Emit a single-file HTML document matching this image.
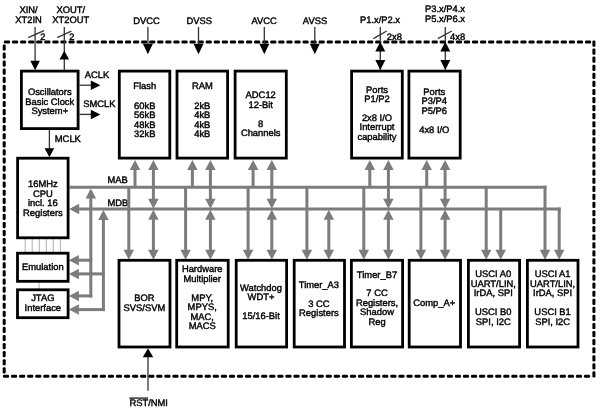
<!DOCTYPE html>
<html><head><meta charset="utf-8"><style>
html,body{margin:0;padding:0;background:#fff;}
body{width:600px;height:412px;overflow:hidden;}
svg{display:block;}
text{font-family:"Liberation Sans",sans-serif;fill:#000;stroke:#000;stroke-width:0.4px;text-rendering:geometricPrecision;}
svg{will-change:transform;filter:blur(0.35px);}
</style></head><body>
<svg width="600" height="412" viewBox="0 0 600 412">
<rect width="600" height="412" fill="#fff"/>
<rect x="3.90" y="40.50" width="6.2" height="3.0" rx="1.2" fill="#000"/>
<rect x="11.97" y="40.50" width="6.2" height="3.0" rx="1.2" fill="#000"/>
<rect x="20.04" y="40.50" width="6.2" height="3.0" rx="1.2" fill="#000"/>
<rect x="28.11" y="40.50" width="6.2" height="3.0" rx="1.2" fill="#000"/>
<rect x="36.18" y="40.50" width="6.2" height="3.0" rx="1.2" fill="#000"/>
<rect x="44.25" y="40.50" width="6.2" height="3.0" rx="1.2" fill="#000"/>
<rect x="52.32" y="40.50" width="6.2" height="3.0" rx="1.2" fill="#000"/>
<rect x="60.39" y="40.50" width="6.2" height="3.0" rx="1.2" fill="#000"/>
<rect x="68.46" y="40.50" width="6.2" height="3.0" rx="1.2" fill="#000"/>
<rect x="76.53" y="40.50" width="6.2" height="3.0" rx="1.2" fill="#000"/>
<rect x="84.60" y="40.50" width="6.2" height="3.0" rx="1.2" fill="#000"/>
<rect x="92.67" y="40.50" width="6.2" height="3.0" rx="1.2" fill="#000"/>
<rect x="100.74" y="40.50" width="6.2" height="3.0" rx="1.2" fill="#000"/>
<rect x="108.81" y="40.50" width="6.2" height="3.0" rx="1.2" fill="#000"/>
<rect x="116.88" y="40.50" width="6.2" height="3.0" rx="1.2" fill="#000"/>
<rect x="124.95" y="40.50" width="6.2" height="3.0" rx="1.2" fill="#000"/>
<rect x="133.02" y="40.50" width="6.2" height="3.0" rx="1.2" fill="#000"/>
<rect x="141.09" y="40.50" width="6.2" height="3.0" rx="1.2" fill="#000"/>
<rect x="149.16" y="40.50" width="6.2" height="3.0" rx="1.2" fill="#000"/>
<rect x="157.23" y="40.50" width="6.2" height="3.0" rx="1.2" fill="#000"/>
<rect x="165.30" y="40.50" width="6.2" height="3.0" rx="1.2" fill="#000"/>
<rect x="173.37" y="40.50" width="6.2" height="3.0" rx="1.2" fill="#000"/>
<rect x="181.44" y="40.50" width="6.2" height="3.0" rx="1.2" fill="#000"/>
<rect x="189.51" y="40.50" width="6.2" height="3.0" rx="1.2" fill="#000"/>
<rect x="197.58" y="40.50" width="6.2" height="3.0" rx="1.2" fill="#000"/>
<rect x="205.65" y="40.50" width="6.2" height="3.0" rx="1.2" fill="#000"/>
<rect x="213.72" y="40.50" width="6.2" height="3.0" rx="1.2" fill="#000"/>
<rect x="221.79" y="40.50" width="6.2" height="3.0" rx="1.2" fill="#000"/>
<rect x="229.86" y="40.50" width="6.2" height="3.0" rx="1.2" fill="#000"/>
<rect x="237.93" y="40.50" width="6.2" height="3.0" rx="1.2" fill="#000"/>
<rect x="246.00" y="40.50" width="6.2" height="3.0" rx="1.2" fill="#000"/>
<rect x="254.07" y="40.50" width="6.2" height="3.0" rx="1.2" fill="#000"/>
<rect x="262.14" y="40.50" width="6.2" height="3.0" rx="1.2" fill="#000"/>
<rect x="270.21" y="40.50" width="6.2" height="3.0" rx="1.2" fill="#000"/>
<rect x="278.28" y="40.50" width="6.2" height="3.0" rx="1.2" fill="#000"/>
<rect x="286.35" y="40.50" width="6.2" height="3.0" rx="1.2" fill="#000"/>
<rect x="294.42" y="40.50" width="6.2" height="3.0" rx="1.2" fill="#000"/>
<rect x="302.49" y="40.50" width="6.2" height="3.0" rx="1.2" fill="#000"/>
<rect x="310.56" y="40.50" width="6.2" height="3.0" rx="1.2" fill="#000"/>
<rect x="318.63" y="40.50" width="6.2" height="3.0" rx="1.2" fill="#000"/>
<rect x="326.70" y="40.50" width="6.2" height="3.0" rx="1.2" fill="#000"/>
<rect x="334.77" y="40.50" width="6.2" height="3.0" rx="1.2" fill="#000"/>
<rect x="342.84" y="40.50" width="6.2" height="3.0" rx="1.2" fill="#000"/>
<rect x="350.91" y="40.50" width="6.2" height="3.0" rx="1.2" fill="#000"/>
<rect x="358.98" y="40.50" width="6.2" height="3.0" rx="1.2" fill="#000"/>
<rect x="367.05" y="40.50" width="6.2" height="3.0" rx="1.2" fill="#000"/>
<rect x="375.12" y="40.50" width="6.2" height="3.0" rx="1.2" fill="#000"/>
<rect x="383.19" y="40.50" width="6.2" height="3.0" rx="1.2" fill="#000"/>
<rect x="391.26" y="40.50" width="6.2" height="3.0" rx="1.2" fill="#000"/>
<rect x="399.33" y="40.50" width="6.2" height="3.0" rx="1.2" fill="#000"/>
<rect x="407.40" y="40.50" width="6.2" height="3.0" rx="1.2" fill="#000"/>
<rect x="415.47" y="40.50" width="6.2" height="3.0" rx="1.2" fill="#000"/>
<rect x="423.54" y="40.50" width="6.2" height="3.0" rx="1.2" fill="#000"/>
<rect x="431.61" y="40.50" width="6.2" height="3.0" rx="1.2" fill="#000"/>
<rect x="439.68" y="40.50" width="6.2" height="3.0" rx="1.2" fill="#000"/>
<rect x="447.75" y="40.50" width="6.2" height="3.0" rx="1.2" fill="#000"/>
<rect x="455.82" y="40.50" width="6.2" height="3.0" rx="1.2" fill="#000"/>
<rect x="463.89" y="40.50" width="6.2" height="3.0" rx="1.2" fill="#000"/>
<rect x="471.96" y="40.50" width="6.2" height="3.0" rx="1.2" fill="#000"/>
<rect x="480.03" y="40.50" width="6.2" height="3.0" rx="1.2" fill="#000"/>
<rect x="488.10" y="40.50" width="6.2" height="3.0" rx="1.2" fill="#000"/>
<rect x="496.17" y="40.50" width="6.2" height="3.0" rx="1.2" fill="#000"/>
<rect x="504.24" y="40.50" width="6.2" height="3.0" rx="1.2" fill="#000"/>
<rect x="512.31" y="40.50" width="6.2" height="3.0" rx="1.2" fill="#000"/>
<rect x="520.38" y="40.50" width="6.2" height="3.0" rx="1.2" fill="#000"/>
<rect x="528.45" y="40.50" width="6.2" height="3.0" rx="1.2" fill="#000"/>
<rect x="536.52" y="40.50" width="6.2" height="3.0" rx="1.2" fill="#000"/>
<rect x="544.59" y="40.50" width="6.2" height="3.0" rx="1.2" fill="#000"/>
<rect x="552.66" y="40.50" width="6.2" height="3.0" rx="1.2" fill="#000"/>
<rect x="560.73" y="40.50" width="6.2" height="3.0" rx="1.2" fill="#000"/>
<rect x="568.80" y="40.50" width="6.2" height="3.0" rx="1.2" fill="#000"/>
<rect x="576.87" y="40.50" width="6.2" height="3.0" rx="1.2" fill="#000"/>
<rect x="584.94" y="40.50" width="6.2" height="3.0" rx="1.2" fill="#000"/>
<rect x="2.90" y="374.80" width="6.2" height="3.0" rx="1.2" fill="#000"/>
<rect x="10.97" y="374.80" width="6.2" height="3.0" rx="1.2" fill="#000"/>
<rect x="19.04" y="374.80" width="6.2" height="3.0" rx="1.2" fill="#000"/>
<rect x="27.11" y="374.80" width="6.2" height="3.0" rx="1.2" fill="#000"/>
<rect x="35.18" y="374.80" width="6.2" height="3.0" rx="1.2" fill="#000"/>
<rect x="43.25" y="374.80" width="6.2" height="3.0" rx="1.2" fill="#000"/>
<rect x="51.32" y="374.80" width="6.2" height="3.0" rx="1.2" fill="#000"/>
<rect x="59.39" y="374.80" width="6.2" height="3.0" rx="1.2" fill="#000"/>
<rect x="67.46" y="374.80" width="6.2" height="3.0" rx="1.2" fill="#000"/>
<rect x="75.53" y="374.80" width="6.2" height="3.0" rx="1.2" fill="#000"/>
<rect x="83.60" y="374.80" width="6.2" height="3.0" rx="1.2" fill="#000"/>
<rect x="91.67" y="374.80" width="6.2" height="3.0" rx="1.2" fill="#000"/>
<rect x="99.74" y="374.80" width="6.2" height="3.0" rx="1.2" fill="#000"/>
<rect x="107.81" y="374.80" width="6.2" height="3.0" rx="1.2" fill="#000"/>
<rect x="115.88" y="374.80" width="6.2" height="3.0" rx="1.2" fill="#000"/>
<rect x="123.95" y="374.80" width="6.2" height="3.0" rx="1.2" fill="#000"/>
<rect x="132.02" y="374.80" width="6.2" height="3.0" rx="1.2" fill="#000"/>
<rect x="140.09" y="374.80" width="6.2" height="3.0" rx="1.2" fill="#000"/>
<rect x="148.16" y="374.80" width="6.2" height="3.0" rx="1.2" fill="#000"/>
<rect x="156.23" y="374.80" width="6.2" height="3.0" rx="1.2" fill="#000"/>
<rect x="164.30" y="374.80" width="6.2" height="3.0" rx="1.2" fill="#000"/>
<rect x="172.37" y="374.80" width="6.2" height="3.0" rx="1.2" fill="#000"/>
<rect x="180.44" y="374.80" width="6.2" height="3.0" rx="1.2" fill="#000"/>
<rect x="188.51" y="374.80" width="6.2" height="3.0" rx="1.2" fill="#000"/>
<rect x="196.58" y="374.80" width="6.2" height="3.0" rx="1.2" fill="#000"/>
<rect x="204.65" y="374.80" width="6.2" height="3.0" rx="1.2" fill="#000"/>
<rect x="212.72" y="374.80" width="6.2" height="3.0" rx="1.2" fill="#000"/>
<rect x="220.79" y="374.80" width="6.2" height="3.0" rx="1.2" fill="#000"/>
<rect x="228.86" y="374.80" width="6.2" height="3.0" rx="1.2" fill="#000"/>
<rect x="236.93" y="374.80" width="6.2" height="3.0" rx="1.2" fill="#000"/>
<rect x="245.00" y="374.80" width="6.2" height="3.0" rx="1.2" fill="#000"/>
<rect x="253.07" y="374.80" width="6.2" height="3.0" rx="1.2" fill="#000"/>
<rect x="261.14" y="374.80" width="6.2" height="3.0" rx="1.2" fill="#000"/>
<rect x="269.21" y="374.80" width="6.2" height="3.0" rx="1.2" fill="#000"/>
<rect x="277.28" y="374.80" width="6.2" height="3.0" rx="1.2" fill="#000"/>
<rect x="285.35" y="374.80" width="6.2" height="3.0" rx="1.2" fill="#000"/>
<rect x="293.42" y="374.80" width="6.2" height="3.0" rx="1.2" fill="#000"/>
<rect x="301.49" y="374.80" width="6.2" height="3.0" rx="1.2" fill="#000"/>
<rect x="309.56" y="374.80" width="6.2" height="3.0" rx="1.2" fill="#000"/>
<rect x="317.63" y="374.80" width="6.2" height="3.0" rx="1.2" fill="#000"/>
<rect x="325.70" y="374.80" width="6.2" height="3.0" rx="1.2" fill="#000"/>
<rect x="333.77" y="374.80" width="6.2" height="3.0" rx="1.2" fill="#000"/>
<rect x="341.84" y="374.80" width="6.2" height="3.0" rx="1.2" fill="#000"/>
<rect x="349.91" y="374.80" width="6.2" height="3.0" rx="1.2" fill="#000"/>
<rect x="357.98" y="374.80" width="6.2" height="3.0" rx="1.2" fill="#000"/>
<rect x="366.05" y="374.80" width="6.2" height="3.0" rx="1.2" fill="#000"/>
<rect x="374.12" y="374.80" width="6.2" height="3.0" rx="1.2" fill="#000"/>
<rect x="382.19" y="374.80" width="6.2" height="3.0" rx="1.2" fill="#000"/>
<rect x="390.26" y="374.80" width="6.2" height="3.0" rx="1.2" fill="#000"/>
<rect x="398.33" y="374.80" width="6.2" height="3.0" rx="1.2" fill="#000"/>
<rect x="406.40" y="374.80" width="6.2" height="3.0" rx="1.2" fill="#000"/>
<rect x="414.47" y="374.80" width="6.2" height="3.0" rx="1.2" fill="#000"/>
<rect x="422.54" y="374.80" width="6.2" height="3.0" rx="1.2" fill="#000"/>
<rect x="430.61" y="374.80" width="6.2" height="3.0" rx="1.2" fill="#000"/>
<rect x="438.68" y="374.80" width="6.2" height="3.0" rx="1.2" fill="#000"/>
<rect x="446.75" y="374.80" width="6.2" height="3.0" rx="1.2" fill="#000"/>
<rect x="454.82" y="374.80" width="6.2" height="3.0" rx="1.2" fill="#000"/>
<rect x="462.89" y="374.80" width="6.2" height="3.0" rx="1.2" fill="#000"/>
<rect x="470.96" y="374.80" width="6.2" height="3.0" rx="1.2" fill="#000"/>
<rect x="479.03" y="374.80" width="6.2" height="3.0" rx="1.2" fill="#000"/>
<rect x="487.10" y="374.80" width="6.2" height="3.0" rx="1.2" fill="#000"/>
<rect x="495.17" y="374.80" width="6.2" height="3.0" rx="1.2" fill="#000"/>
<rect x="503.24" y="374.80" width="6.2" height="3.0" rx="1.2" fill="#000"/>
<rect x="511.31" y="374.80" width="6.2" height="3.0" rx="1.2" fill="#000"/>
<rect x="519.38" y="374.80" width="6.2" height="3.0" rx="1.2" fill="#000"/>
<rect x="527.45" y="374.80" width="6.2" height="3.0" rx="1.2" fill="#000"/>
<rect x="535.52" y="374.80" width="6.2" height="3.0" rx="1.2" fill="#000"/>
<rect x="543.59" y="374.80" width="6.2" height="3.0" rx="1.2" fill="#000"/>
<rect x="551.66" y="374.80" width="6.2" height="3.0" rx="1.2" fill="#000"/>
<rect x="559.73" y="374.80" width="6.2" height="3.0" rx="1.2" fill="#000"/>
<rect x="567.80" y="374.80" width="6.2" height="3.0" rx="1.2" fill="#000"/>
<rect x="575.87" y="374.80" width="6.2" height="3.0" rx="1.2" fill="#000"/>
<rect x="583.94" y="374.80" width="6.2" height="3.0" rx="1.2" fill="#000"/>
<rect x="2.70" y="44.40" width="3.0" height="6.2" rx="1.2" fill="#000"/>
<rect x="2.70" y="52.47" width="3.0" height="6.2" rx="1.2" fill="#000"/>
<rect x="2.70" y="60.54" width="3.0" height="6.2" rx="1.2" fill="#000"/>
<rect x="2.70" y="68.61" width="3.0" height="6.2" rx="1.2" fill="#000"/>
<rect x="2.70" y="76.68" width="3.0" height="6.2" rx="1.2" fill="#000"/>
<rect x="2.70" y="84.75" width="3.0" height="6.2" rx="1.2" fill="#000"/>
<rect x="2.70" y="92.82" width="3.0" height="6.2" rx="1.2" fill="#000"/>
<rect x="2.70" y="100.89" width="3.0" height="6.2" rx="1.2" fill="#000"/>
<rect x="2.70" y="108.96" width="3.0" height="6.2" rx="1.2" fill="#000"/>
<rect x="2.70" y="117.03" width="3.0" height="6.2" rx="1.2" fill="#000"/>
<rect x="2.70" y="125.10" width="3.0" height="6.2" rx="1.2" fill="#000"/>
<rect x="2.70" y="133.17" width="3.0" height="6.2" rx="1.2" fill="#000"/>
<rect x="2.70" y="141.24" width="3.0" height="6.2" rx="1.2" fill="#000"/>
<rect x="2.70" y="149.31" width="3.0" height="6.2" rx="1.2" fill="#000"/>
<rect x="2.70" y="157.38" width="3.0" height="6.2" rx="1.2" fill="#000"/>
<rect x="2.70" y="165.45" width="3.0" height="6.2" rx="1.2" fill="#000"/>
<rect x="2.70" y="173.52" width="3.0" height="6.2" rx="1.2" fill="#000"/>
<rect x="2.70" y="181.59" width="3.0" height="6.2" rx="1.2" fill="#000"/>
<rect x="2.70" y="189.66" width="3.0" height="6.2" rx="1.2" fill="#000"/>
<rect x="2.70" y="197.73" width="3.0" height="6.2" rx="1.2" fill="#000"/>
<rect x="2.70" y="205.80" width="3.0" height="6.2" rx="1.2" fill="#000"/>
<rect x="2.70" y="213.87" width="3.0" height="6.2" rx="1.2" fill="#000"/>
<rect x="2.70" y="221.94" width="3.0" height="6.2" rx="1.2" fill="#000"/>
<rect x="2.70" y="230.01" width="3.0" height="6.2" rx="1.2" fill="#000"/>
<rect x="2.70" y="238.08" width="3.0" height="6.2" rx="1.2" fill="#000"/>
<rect x="2.70" y="246.15" width="3.0" height="6.2" rx="1.2" fill="#000"/>
<rect x="2.70" y="254.22" width="3.0" height="6.2" rx="1.2" fill="#000"/>
<rect x="2.70" y="262.29" width="3.0" height="6.2" rx="1.2" fill="#000"/>
<rect x="2.70" y="270.36" width="3.0" height="6.2" rx="1.2" fill="#000"/>
<rect x="2.70" y="278.43" width="3.0" height="6.2" rx="1.2" fill="#000"/>
<rect x="2.70" y="286.50" width="3.0" height="6.2" rx="1.2" fill="#000"/>
<rect x="2.70" y="294.57" width="3.0" height="6.2" rx="1.2" fill="#000"/>
<rect x="2.70" y="302.64" width="3.0" height="6.2" rx="1.2" fill="#000"/>
<rect x="2.70" y="310.71" width="3.0" height="6.2" rx="1.2" fill="#000"/>
<rect x="2.70" y="318.78" width="3.0" height="6.2" rx="1.2" fill="#000"/>
<rect x="2.70" y="326.85" width="3.0" height="6.2" rx="1.2" fill="#000"/>
<rect x="2.70" y="334.92" width="3.0" height="6.2" rx="1.2" fill="#000"/>
<rect x="2.70" y="342.99" width="3.0" height="6.2" rx="1.2" fill="#000"/>
<rect x="2.70" y="351.06" width="3.0" height="6.2" rx="1.2" fill="#000"/>
<rect x="2.70" y="359.13" width="3.0" height="6.2" rx="1.2" fill="#000"/>
<rect x="2.70" y="367.20" width="3.0" height="6.2" rx="1.2" fill="#000"/>
<rect x="592.40" y="40.47" width="3.0" height="6.2" rx="1.2" fill="#000"/>
<rect x="592.40" y="48.54" width="3.0" height="6.2" rx="1.2" fill="#000"/>
<rect x="592.40" y="56.61" width="3.0" height="6.2" rx="1.2" fill="#000"/>
<rect x="592.40" y="64.68" width="3.0" height="6.2" rx="1.2" fill="#000"/>
<rect x="592.40" y="72.75" width="3.0" height="6.2" rx="1.2" fill="#000"/>
<rect x="592.40" y="80.82" width="3.0" height="6.2" rx="1.2" fill="#000"/>
<rect x="592.40" y="88.89" width="3.0" height="6.2" rx="1.2" fill="#000"/>
<rect x="592.40" y="96.96" width="3.0" height="6.2" rx="1.2" fill="#000"/>
<rect x="592.40" y="105.03" width="3.0" height="6.2" rx="1.2" fill="#000"/>
<rect x="592.40" y="113.10" width="3.0" height="6.2" rx="1.2" fill="#000"/>
<rect x="592.40" y="121.17" width="3.0" height="6.2" rx="1.2" fill="#000"/>
<rect x="592.40" y="129.24" width="3.0" height="6.2" rx="1.2" fill="#000"/>
<rect x="592.40" y="137.31" width="3.0" height="6.2" rx="1.2" fill="#000"/>
<rect x="592.40" y="145.38" width="3.0" height="6.2" rx="1.2" fill="#000"/>
<rect x="592.40" y="153.45" width="3.0" height="6.2" rx="1.2" fill="#000"/>
<rect x="592.40" y="161.52" width="3.0" height="6.2" rx="1.2" fill="#000"/>
<rect x="592.40" y="169.59" width="3.0" height="6.2" rx="1.2" fill="#000"/>
<rect x="592.40" y="177.66" width="3.0" height="6.2" rx="1.2" fill="#000"/>
<rect x="592.40" y="185.73" width="3.0" height="6.2" rx="1.2" fill="#000"/>
<rect x="592.40" y="193.80" width="3.0" height="6.2" rx="1.2" fill="#000"/>
<rect x="592.40" y="201.87" width="3.0" height="6.2" rx="1.2" fill="#000"/>
<rect x="592.40" y="209.94" width="3.0" height="6.2" rx="1.2" fill="#000"/>
<rect x="592.40" y="218.01" width="3.0" height="6.2" rx="1.2" fill="#000"/>
<rect x="592.40" y="226.08" width="3.0" height="6.2" rx="1.2" fill="#000"/>
<rect x="592.40" y="234.15" width="3.0" height="6.2" rx="1.2" fill="#000"/>
<rect x="592.40" y="242.22" width="3.0" height="6.2" rx="1.2" fill="#000"/>
<rect x="592.40" y="250.29" width="3.0" height="6.2" rx="1.2" fill="#000"/>
<rect x="592.40" y="258.36" width="3.0" height="6.2" rx="1.2" fill="#000"/>
<rect x="592.40" y="266.43" width="3.0" height="6.2" rx="1.2" fill="#000"/>
<rect x="592.40" y="274.50" width="3.0" height="6.2" rx="1.2" fill="#000"/>
<rect x="592.40" y="282.57" width="3.0" height="6.2" rx="1.2" fill="#000"/>
<rect x="592.40" y="290.64" width="3.0" height="6.2" rx="1.2" fill="#000"/>
<rect x="592.40" y="298.71" width="3.0" height="6.2" rx="1.2" fill="#000"/>
<rect x="592.40" y="306.78" width="3.0" height="6.2" rx="1.2" fill="#000"/>
<rect x="592.40" y="314.85" width="3.0" height="6.2" rx="1.2" fill="#000"/>
<rect x="592.40" y="322.92" width="3.0" height="6.2" rx="1.2" fill="#000"/>
<rect x="592.40" y="330.99" width="3.0" height="6.2" rx="1.2" fill="#000"/>
<rect x="592.40" y="339.06" width="3.0" height="6.2" rx="1.2" fill="#000"/>
<rect x="592.40" y="347.13" width="3.0" height="6.2" rx="1.2" fill="#000"/>
<rect x="592.40" y="355.20" width="3.0" height="6.2" rx="1.2" fill="#000"/>
<rect x="592.40" y="363.27" width="3.0" height="6.2" rx="1.2" fill="#000"/>
<rect x="592.40" y="371.34" width="3.0" height="6.2" rx="1.2" fill="#000"/>
<text transform="translate(107.50,182.50) scale(1,1.0)" text-anchor="start" font-size="9.4" >MAB</text>
<text transform="translate(107.50,206.00) scale(1,1.0)" text-anchor="start" font-size="9.4" >MDB</text>
<line x1="69.50" y1="187.20" x2="546.50" y2="187.20" stroke="#7c7c7e" stroke-width="3.0"/>
<line x1="72.00" y1="209.10" x2="560.70" y2="209.10" stroke="#7c7c7e" stroke-width="3.0"/>
<polygon points="69.20,209.10 79.20,203.85 79.20,214.35" fill="#7c7c7e"/>
<line x1="135.00" y1="187.20" x2="135.00" y2="163.50" stroke="#7c7c7e" stroke-width="3.0"/>
<polygon points="135.00,159.90 129.75,169.90 140.25,169.90" fill="#7c7c7e"/>
<line x1="153.40" y1="163.50" x2="153.40" y2="205.10" stroke="#7c7c7e" stroke-width="3.0"/>
<polygon points="153.40,159.90 148.15,169.90 158.65,169.90" fill="#7c7c7e"/>
<polygon points="153.40,208.70 148.15,198.70 158.65,198.70" fill="#7c7c7e"/>
<line x1="192.40" y1="187.20" x2="192.40" y2="163.50" stroke="#7c7c7e" stroke-width="3.0"/>
<polygon points="192.40,159.90 187.15,169.90 197.65,169.90" fill="#7c7c7e"/>
<line x1="210.40" y1="163.50" x2="210.40" y2="205.10" stroke="#7c7c7e" stroke-width="3.0"/>
<polygon points="210.40,159.90 205.15,169.90 215.65,169.90" fill="#7c7c7e"/>
<polygon points="210.40,208.70 205.15,198.70 215.65,198.70" fill="#7c7c7e"/>
<line x1="253.10" y1="187.20" x2="253.10" y2="163.50" stroke="#7c7c7e" stroke-width="3.0"/>
<polygon points="253.10,159.90 247.85,169.90 258.35,169.90" fill="#7c7c7e"/>
<line x1="271.80" y1="163.50" x2="271.80" y2="205.10" stroke="#7c7c7e" stroke-width="3.0"/>
<polygon points="271.80,159.90 266.55,169.90 277.05,169.90" fill="#7c7c7e"/>
<polygon points="271.80,208.70 266.55,198.70 277.05,198.70" fill="#7c7c7e"/>
<line x1="369.80" y1="187.20" x2="369.80" y2="163.50" stroke="#7c7c7e" stroke-width="3.0"/>
<polygon points="369.80,159.90 364.55,169.90 375.05,169.90" fill="#7c7c7e"/>
<line x1="388.40" y1="163.50" x2="388.40" y2="205.10" stroke="#7c7c7e" stroke-width="3.0"/>
<polygon points="388.40,159.90 383.15,169.90 393.65,169.90" fill="#7c7c7e"/>
<polygon points="388.40,208.70 383.15,198.70 393.65,198.70" fill="#7c7c7e"/>
<line x1="426.70" y1="187.20" x2="426.70" y2="163.50" stroke="#7c7c7e" stroke-width="3.0"/>
<polygon points="426.70,159.90 421.45,169.90 431.95,169.90" fill="#7c7c7e"/>
<line x1="445.10" y1="163.50" x2="445.10" y2="205.10" stroke="#7c7c7e" stroke-width="3.0"/>
<polygon points="445.10,159.90 439.85,169.90 450.35,169.90" fill="#7c7c7e"/>
<polygon points="445.10,208.70 439.85,198.70 450.35,198.70" fill="#7c7c7e"/>
<line x1="128.80" y1="187.20" x2="128.80" y2="254.90" stroke="#7c7c7e" stroke-width="3.0"/>
<polygon points="128.80,259.70 123.55,249.70 134.05,249.70" fill="#7c7c7e"/>
<line x1="153.40" y1="213.10" x2="153.40" y2="254.90" stroke="#7c7c7e" stroke-width="3.0"/>
<polygon points="153.40,209.70 148.15,219.70 158.65,219.70" fill="#7c7c7e"/>
<polygon points="153.40,259.70 148.15,249.70 158.65,249.70" fill="#7c7c7e"/>
<line x1="185.60" y1="187.20" x2="185.60" y2="254.90" stroke="#7c7c7e" stroke-width="3.0"/>
<polygon points="185.60,259.70 180.35,249.70 190.85,249.70" fill="#7c7c7e"/>
<line x1="210.40" y1="213.10" x2="210.40" y2="254.90" stroke="#7c7c7e" stroke-width="3.0"/>
<polygon points="210.40,209.70 205.15,219.70 215.65,219.70" fill="#7c7c7e"/>
<polygon points="210.40,259.70 205.15,249.70 215.65,249.70" fill="#7c7c7e"/>
<line x1="248.10" y1="187.20" x2="248.10" y2="254.90" stroke="#7c7c7e" stroke-width="3.0"/>
<polygon points="248.10,259.70 242.85,249.70 253.35,249.70" fill="#7c7c7e"/>
<line x1="271.80" y1="213.10" x2="271.80" y2="254.90" stroke="#7c7c7e" stroke-width="3.0"/>
<polygon points="271.80,209.70 266.55,219.70 277.05,219.70" fill="#7c7c7e"/>
<polygon points="271.80,259.70 266.55,249.70 277.05,249.70" fill="#7c7c7e"/>
<line x1="306.90" y1="187.20" x2="306.90" y2="254.90" stroke="#7c7c7e" stroke-width="3.0"/>
<polygon points="306.90,259.70 301.65,249.70 312.15,249.70" fill="#7c7c7e"/>
<line x1="328.80" y1="213.10" x2="328.80" y2="254.90" stroke="#7c7c7e" stroke-width="3.0"/>
<polygon points="328.80,209.70 323.55,219.70 334.05,219.70" fill="#7c7c7e"/>
<polygon points="328.80,259.70 323.55,249.70 334.05,249.70" fill="#7c7c7e"/>
<line x1="363.80" y1="187.20" x2="363.80" y2="254.90" stroke="#7c7c7e" stroke-width="3.0"/>
<polygon points="363.80,259.70 358.55,249.70 369.05,249.70" fill="#7c7c7e"/>
<line x1="388.40" y1="213.10" x2="388.40" y2="254.90" stroke="#7c7c7e" stroke-width="3.0"/>
<polygon points="388.40,209.70 383.15,219.70 393.65,219.70" fill="#7c7c7e"/>
<polygon points="388.40,259.70 383.15,249.70 393.65,249.70" fill="#7c7c7e"/>
<line x1="420.90" y1="187.20" x2="420.90" y2="254.90" stroke="#7c7c7e" stroke-width="3.0"/>
<polygon points="420.90,259.70 415.65,249.70 426.15,249.70" fill="#7c7c7e"/>
<line x1="445.10" y1="213.10" x2="445.10" y2="254.90" stroke="#7c7c7e" stroke-width="3.0"/>
<polygon points="445.10,209.70 439.85,219.70 450.35,219.70" fill="#7c7c7e"/>
<polygon points="445.10,259.70 439.85,249.70 450.35,249.70" fill="#7c7c7e"/>
<line x1="486.20" y1="187.20" x2="486.20" y2="254.90" stroke="#7c7c7e" stroke-width="3.0"/>
<polygon points="486.20,259.70 480.95,249.70 491.45,249.70" fill="#7c7c7e"/>
<line x1="500.70" y1="209.10" x2="500.70" y2="254.90" stroke="#7c7c7e" stroke-width="3.0"/>
<polygon points="500.70,259.70 495.45,249.70 505.95,249.70" fill="#7c7c7e"/>
<line x1="545.00" y1="185.70" x2="545.00" y2="254.90" stroke="#7c7c7e" stroke-width="3.0"/>
<polygon points="545.00,259.70 539.75,249.70 550.25,249.70" fill="#7c7c7e"/>
<line x1="559.20" y1="207.60" x2="559.20" y2="254.90" stroke="#7c7c7e" stroke-width="3.0"/>
<polygon points="559.20,259.70 553.95,249.70 564.45,249.70" fill="#7c7c7e"/>
<line x1="90.80" y1="191.20" x2="90.80" y2="297.40" stroke="#7c7c7e" stroke-width="3.0"/>
<polygon points="90.80,188.40 85.55,198.40 96.05,198.40" fill="#7c7c7e"/>
<line x1="103.40" y1="213.10" x2="103.40" y2="311.10" stroke="#7c7c7e" stroke-width="3.0"/>
<polygon points="103.40,209.90 98.15,219.90 108.65,219.90" fill="#7c7c7e"/>
<line x1="74.00" y1="260.20" x2="92.30" y2="260.20" stroke="#7c7c7e" stroke-width="3.0"/>
<polygon points="68.90,260.20 78.90,254.95 78.90,265.45" fill="#7c7c7e"/>
<line x1="74.00" y1="273.90" x2="104.90" y2="273.90" stroke="#7c7c7e" stroke-width="3.0"/>
<polygon points="68.90,273.90 78.90,268.65 78.90,279.15" fill="#7c7c7e"/>
<line x1="74.00" y1="295.90" x2="92.30" y2="295.90" stroke="#7c7c7e" stroke-width="3.0"/>
<polygon points="68.90,295.90 78.90,290.65 78.90,301.15" fill="#7c7c7e"/>
<line x1="74.00" y1="309.60" x2="104.90" y2="309.60" stroke="#7c7c7e" stroke-width="3.0"/>
<polygon points="68.90,309.60 78.90,304.35 78.90,314.85" fill="#7c7c7e"/>
<line x1="25.20" y1="239.00" x2="25.20" y2="252.00" stroke="#9a9a9a" stroke-width="0.8"/>
<line x1="32.20" y1="239.00" x2="32.20" y2="252.00" stroke="#9a9a9a" stroke-width="0.8"/>
<line x1="39.30" y1="239.00" x2="39.30" y2="252.00" stroke="#9a9a9a" stroke-width="0.8"/>
<line x1="46.30" y1="239.00" x2="46.30" y2="252.00" stroke="#9a9a9a" stroke-width="0.8"/>
<line x1="53.30" y1="239.00" x2="53.30" y2="252.00" stroke="#9a9a9a" stroke-width="0.8"/>
<line x1="60.40" y1="239.00" x2="60.40" y2="252.00" stroke="#9a9a9a" stroke-width="0.8"/>
<line x1="39.10" y1="282.00" x2="39.10" y2="289.00" stroke="#9a9a9a" stroke-width="0.8"/>
<rect x="21.40" y="71.10" width="56.70" height="57.50" fill="none" stroke="#000" stroke-width="2.8"/>
<rect x="17.60" y="158.20" width="50.50" height="79.60" fill="none" stroke="#000" stroke-width="2.8"/>
<rect x="17.50" y="253.20" width="50.60" height="28.10" fill="none" stroke="#000" stroke-width="2.8"/>
<rect x="17.50" y="289.80" width="50.60" height="27.90" fill="none" stroke="#000" stroke-width="2.8"/>
<rect x="119.30" y="71.10" width="50.50" height="87.00" fill="none" stroke="#000" stroke-width="2.8"/>
<rect x="177.00" y="71.10" width="50.60" height="87.00" fill="none" stroke="#000" stroke-width="2.8"/>
<rect x="235.10" y="71.10" width="51.20" height="87.00" fill="none" stroke="#000" stroke-width="2.8"/>
<rect x="351.60" y="71.10" width="50.70" height="87.00" fill="none" stroke="#000" stroke-width="2.8"/>
<rect x="408.90" y="71.10" width="51.30" height="87.00" fill="none" stroke="#000" stroke-width="2.8"/>
<rect x="119.00" y="260.30" width="51.00" height="86.70" fill="none" stroke="#000" stroke-width="2.8"/>
<rect x="176.70" y="260.30" width="51.50" height="86.70" fill="none" stroke="#000" stroke-width="2.8"/>
<rect x="236.20" y="260.30" width="50.40" height="86.70" fill="none" stroke="#000" stroke-width="2.8"/>
<rect x="294.20" y="260.30" width="50.30" height="86.70" fill="none" stroke="#000" stroke-width="2.8"/>
<rect x="351.40" y="260.30" width="51.20" height="86.70" fill="none" stroke="#000" stroke-width="2.8"/>
<rect x="409.20" y="260.30" width="51.30" height="86.70" fill="none" stroke="#000" stroke-width="2.8"/>
<rect x="468.40" y="260.30" width="51.20" height="86.70" fill="none" stroke="#000" stroke-width="2.8"/>
<rect x="527.40" y="260.30" width="50.60" height="86.70" fill="none" stroke="#000" stroke-width="2.8"/>
<line x1="35.10" y1="27.00" x2="35.10" y2="62.00" stroke="#333" stroke-width="1.3"/>
<polygon points="35.10,70.20 30.30,60.80 39.90,60.80" fill="#000"/>
<line x1="64.30" y1="27.00" x2="64.30" y2="70.00" stroke="#333" stroke-width="1.3"/>
<polygon points="64.30,50.80 59.50,59.60 69.10,59.60" fill="#000"/>
<line x1="28.20" y1="37.70" x2="44.00" y2="30.60" stroke="#333" stroke-width="1.3"/>
<line x1="57.20" y1="37.70" x2="71.40" y2="31.10" stroke="#333" stroke-width="1.3"/>
<line x1="147.90" y1="27.00" x2="147.90" y2="46.00" stroke="#333" stroke-width="1.3"/>
<polygon points="147.90,54.20 142.90,43.70 152.90,43.70" fill="#000"/>
<line x1="198.50" y1="27.00" x2="198.50" y2="46.00" stroke="#333" stroke-width="1.3"/>
<polygon points="198.50,54.20 193.50,43.70 203.50,43.70" fill="#000"/>
<line x1="264.30" y1="27.00" x2="264.30" y2="46.00" stroke="#333" stroke-width="1.3"/>
<polygon points="264.30,54.20 259.30,43.70 269.30,43.70" fill="#000"/>
<line x1="314.80" y1="27.00" x2="314.80" y2="46.00" stroke="#333" stroke-width="1.3"/>
<polygon points="314.80,54.20 309.80,43.70 319.80,43.70" fill="#000"/>
<line x1="380.30" y1="27.00" x2="380.30" y2="69.70" stroke="#333" stroke-width="1.3"/>
<polygon points="380.30,41.80 375.30,51.40 385.30,51.40" fill="#000"/>
<polygon points="380.30,69.90 375.30,59.90 385.30,59.90" fill="#000"/>
<line x1="445.30" y1="27.00" x2="445.30" y2="69.70" stroke="#333" stroke-width="1.3"/>
<polygon points="445.30,41.80 440.30,51.40 450.30,51.40" fill="#000"/>
<polygon points="445.30,69.90 440.30,59.90 450.30,59.90" fill="#000"/>
<line x1="373.40" y1="38.60" x2="386.80" y2="31.00" stroke="#333" stroke-width="1.3"/>
<line x1="437.80" y1="38.60" x2="451.80" y2="31.00" stroke="#333" stroke-width="1.3"/>
<line x1="79.50" y1="85.20" x2="92.00" y2="85.20" stroke="#333" stroke-width="1.3"/>
<polygon points="100.40,85.20 90.80,80.45 90.80,89.95" fill="#000"/>
<line x1="79.50" y1="114.40" x2="92.00" y2="114.40" stroke="#333" stroke-width="1.3"/>
<polygon points="100.40,114.40 90.80,109.65 90.80,119.15" fill="#000"/>
<line x1="49.40" y1="130.00" x2="49.40" y2="150.00" stroke="#333" stroke-width="1.3"/>
<polygon points="49.40,157.20 44.60,148.20 54.20,148.20" fill="#000"/>
<line x1="148.00" y1="355.00" x2="148.00" y2="390.70" stroke="#333" stroke-width="1.3"/>
<polygon points="148.00,348.20 142.75,357.20 153.25,357.20" fill="#000"/>
<text transform="translate(49.75,95.30) scale(1,1.0)" text-anchor="middle" font-size="9.4" >Oscillators</text>
<text transform="translate(49.75,104.50) scale(1,1.0)" text-anchor="middle" font-size="9.4" >Basic Clock</text>
<text transform="translate(49.75,113.70) scale(1,1.0)" text-anchor="middle" font-size="9.4" >System+</text>
<text transform="translate(144.70,89.20) scale(1,1.0)" text-anchor="middle" font-size="9.4" >Flash</text>
<text transform="translate(144.70,108.60) scale(1,1.0)" text-anchor="middle" font-size="9.4" >60kB</text>
<text transform="translate(144.70,118.10) scale(1,1.0)" text-anchor="middle" font-size="9.4" >56kB</text>
<text transform="translate(144.70,127.50) scale(1,1.0)" text-anchor="middle" font-size="9.4" >48kB</text>
<text transform="translate(144.70,136.90) scale(1,1.0)" text-anchor="middle" font-size="9.4" >32kB</text>
<text transform="translate(202.30,89.00) scale(1,1.0)" text-anchor="middle" font-size="9.4" >RAM</text>
<text transform="translate(202.30,108.70) scale(1,1.0)" text-anchor="middle" font-size="9.4" >2kB</text>
<text transform="translate(202.30,118.10) scale(1,1.0)" text-anchor="middle" font-size="9.4" >4kB</text>
<text transform="translate(202.30,127.50) scale(1,1.0)" text-anchor="middle" font-size="9.4" >4kB</text>
<text transform="translate(202.30,136.90) scale(1,1.0)" text-anchor="middle" font-size="9.4" >4kB</text>
<text transform="translate(260.70,98.20) scale(1,1.0)" text-anchor="middle" font-size="9.4" >ADC12</text>
<text transform="translate(260.70,107.60) scale(1,1.0)" text-anchor="middle" font-size="9.4" >12-Bit</text>
<text transform="translate(260.70,126.80) scale(1,1.0)" text-anchor="middle" font-size="9.4" >8</text>
<text transform="translate(260.70,136.10) scale(1,1.0)" text-anchor="middle" font-size="9.4" >Channels</text>
<text transform="translate(377.00,92.60) scale(1,1.0)" text-anchor="middle" font-size="9.4" >Ports</text>
<text transform="translate(377.00,101.80) scale(1,1.0)" text-anchor="middle" font-size="9.4" >P1/P2</text>
<text transform="translate(377.00,120.60) scale(1,1.0)" text-anchor="middle" font-size="9.4" >2x8 I/O</text>
<text transform="translate(377.00,130.20) scale(1,1.0)" text-anchor="middle" font-size="9.4" >Interrupt</text>
<text transform="translate(377.00,139.60) scale(1,1.0)" text-anchor="middle" font-size="9.4" >capability</text>
<text transform="translate(434.30,94.90) scale(1,1.0)" text-anchor="middle" font-size="9.4" >Ports</text>
<text transform="translate(434.30,104.40) scale(1,1.0)" text-anchor="middle" font-size="9.4" >P3/P4</text>
<text transform="translate(434.30,113.90) scale(1,1.0)" text-anchor="middle" font-size="9.4" >P5/P6</text>
<text transform="translate(434.30,133.10) scale(1,1.0)" text-anchor="middle" font-size="9.4" >4x8 I/O</text>
<text transform="translate(42.90,187.30) scale(1,1.0)" text-anchor="middle" font-size="9.4" >16MHz</text>
<text transform="translate(42.90,196.80) scale(1,1.0)" text-anchor="middle" font-size="9.4" >CPU</text>
<text transform="translate(42.90,206.40) scale(1,1.0)" text-anchor="middle" font-size="9.4" >incl. 16</text>
<text transform="translate(42.90,215.50) scale(1,1.0)" text-anchor="middle" font-size="9.4" >Registers</text>
<text transform="translate(42.80,270.40) scale(1,1.0)" text-anchor="middle" font-size="9.4" >Emulation</text>
<text transform="translate(42.80,301.40) scale(1,1.0)" text-anchor="middle" font-size="9.4" >JTAG</text>
<text transform="translate(42.80,310.80) scale(1,1.0)" text-anchor="middle" font-size="9.4" >Interface</text>
<text transform="translate(144.40,301.40) scale(1,1.0)" text-anchor="middle" font-size="9.4" >BOR</text>
<text transform="translate(144.40,311.00) scale(1,1.0)" text-anchor="middle" font-size="9.4" >SVS/SVM</text>
<text transform="translate(202.20,272.40) scale(1,1.0)" text-anchor="middle" font-size="9.4" >Hardware</text>
<text transform="translate(202.20,281.80) scale(1,1.0)" text-anchor="middle" font-size="9.4" >Multiplier</text>
<text transform="translate(202.20,300.90) scale(1,1.0)" text-anchor="middle" font-size="9.4" >MPY,</text>
<text transform="translate(202.20,310.40) scale(1,1.0)" text-anchor="middle" font-size="9.4" >MPYS,</text>
<text transform="translate(202.20,319.90) scale(1,1.0)" text-anchor="middle" font-size="9.4" >MAC,</text>
<text transform="translate(202.20,329.40) scale(1,1.0)" text-anchor="middle" font-size="9.4" >MACS</text>
<text transform="translate(261.00,290.80) scale(1,1.0)" text-anchor="middle" font-size="9.4" >Watchdog</text>
<text transform="translate(261.00,300.00) scale(1,1.0)" text-anchor="middle" font-size="9.4" >WDT+</text>
<text transform="translate(261.00,318.60) scale(1,1.0)" text-anchor="middle" font-size="9.4" >15/16-Bit</text>
<text transform="translate(318.90,288.20) scale(1,1.0)" text-anchor="middle" font-size="9.4" >Timer_A3</text>
<text transform="translate(318.90,306.90) scale(1,1.0)" text-anchor="middle" font-size="9.4" >3 CC</text>
<text transform="translate(318.90,316.10) scale(1,1.0)" text-anchor="middle" font-size="9.4" >Registers</text>
<text transform="translate(377.00,277.50) scale(1,1.0)" text-anchor="middle" font-size="9.4" >Timer_B7</text>
<text transform="translate(377.00,296.40) scale(1,1.0)" text-anchor="middle" font-size="9.4" >7 CC</text>
<text transform="translate(377.00,305.80) scale(1,1.0)" text-anchor="middle" font-size="9.4" >Registers,</text>
<text transform="translate(377.00,315.20) scale(1,1.0)" text-anchor="middle" font-size="9.4" >Shadow</text>
<text transform="translate(377.00,324.60) scale(1,1.0)" text-anchor="middle" font-size="9.4" >Reg</text>
<text transform="translate(434.30,306.00) scale(1,1.0)" text-anchor="middle" font-size="9.4" >Comp_A+</text>
<text transform="translate(493.30,277.40) scale(1,1.0)" text-anchor="middle" font-size="9.4" >USCI A0</text>
<text transform="translate(493.30,286.90) scale(1,1.0)" text-anchor="middle" font-size="9.4" >UART/LIN,</text>
<text transform="translate(493.30,296.30) scale(1,1.0)" text-anchor="middle" font-size="9.4" >IrDA, SPI</text>
<text transform="translate(493.30,315.20) scale(1,1.0)" text-anchor="middle" font-size="9.4" >USCI B0</text>
<text transform="translate(493.30,324.60) scale(1,1.0)" text-anchor="middle" font-size="9.4" >SPI, I2C</text>
<text transform="translate(552.60,277.40) scale(1,1.0)" text-anchor="middle" font-size="9.4" >USCI A1</text>
<text transform="translate(552.60,286.90) scale(1,1.0)" text-anchor="middle" font-size="9.4" >UART/LIN,</text>
<text transform="translate(552.60,296.30) scale(1,1.0)" text-anchor="middle" font-size="9.4" >IrDA, SPI</text>
<text transform="translate(552.60,315.20) scale(1,1.0)" text-anchor="middle" font-size="9.4" >USCI B1</text>
<text transform="translate(552.60,324.60) scale(1,1.0)" text-anchor="middle" font-size="9.4" >SPI, I2C</text>
<text transform="translate(28.50,13.20) scale(1,1.0)" text-anchor="middle" font-size="9.4" >XIN/</text>
<text transform="translate(28.50,22.50) scale(1,1.0)" text-anchor="middle" font-size="9.4" >XT2IN</text>
<text transform="translate(70.80,13.20) scale(1,1.0)" text-anchor="middle" font-size="9.4" >XOUT/</text>
<text transform="translate(70.80,22.50) scale(1,1.0)" text-anchor="middle" font-size="9.4" >XT2OUT</text>
<text transform="translate(42.90,40.20) scale(1,1.0)" text-anchor="middle" font-size="9.4" >2</text>
<text transform="translate(71.80,40.20) scale(1,1.0)" text-anchor="middle" font-size="9.4" >2</text>
<text transform="translate(146.60,24.30) scale(1,1.0)" text-anchor="middle" font-size="9.4" >DVCC</text>
<text transform="translate(199.30,24.30) scale(1,1.0)" text-anchor="middle" font-size="9.4" >DVSS</text>
<text transform="translate(264.20,24.30) scale(1,1.0)" text-anchor="middle" font-size="9.4" >AVCC</text>
<text transform="translate(315.00,24.30) scale(1,1.0)" text-anchor="middle" font-size="9.4" >AVSS</text>
<text transform="translate(380.00,22.80) scale(1,1.0)" text-anchor="middle" font-size="9.4" >P1.x/P2.x</text>
<text transform="translate(445.00,11.90) scale(1,1.0)" text-anchor="middle" font-size="9.4" >P3.x/P4.x</text>
<text transform="translate(445.00,21.70) scale(1,1.0)" text-anchor="middle" font-size="9.4" >P5.x/P6.x</text>
<text transform="translate(386.80,39.70) scale(1,1.0)" text-anchor="start" font-size="9.4" >2x8</text>
<text transform="translate(450.00,39.70) scale(1,1.0)" text-anchor="start" font-size="9.4" >4x8</text>
<text transform="translate(84.80,77.70) scale(1,1.0)" text-anchor="start" font-size="9.4" >ACLK</text>
<text transform="translate(83.20,107.30) scale(1,1.0)" text-anchor="start" font-size="9.4" >SMCLK</text>
<text transform="translate(54.80,141.50) scale(1,1.0)" text-anchor="start" font-size="9.4" >MCLK</text>
<text transform="translate(129.40,406.40) scale(1,1.0)" text-anchor="start" font-size="9.4" >RST/NMI</text>
<line x1="129.4" y1="398.1" x2="148.0" y2="398.1" stroke="#000" stroke-width="1.2"/>
</svg>
</body></html>
